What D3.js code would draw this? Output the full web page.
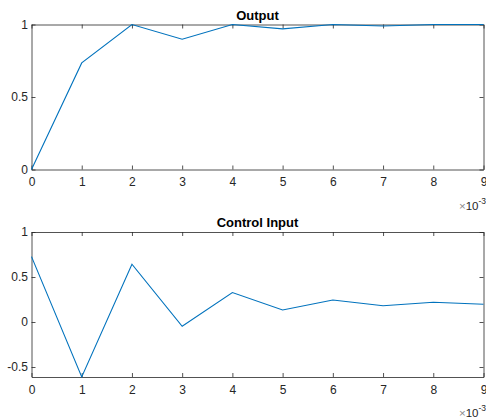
<!DOCTYPE html>
<html>
<head>
<meta charset="utf-8">
<script src="https://cdn.jsdelivr.net/npm/d3@7"></script>
<style>
	body { margin: 0; background: #fff; }
	svg { display: block; font-family: "Liberation Sans", Arial, sans-serif; }
	.tick text { fill: #262626; font-size: 12px; }
	.title { font-weight: bold; font-size: 13px; fill: #000; }
</style>
</head>
<body>
<svg width="486" height="419"></svg>
<script>
// time steps (x 10^-3)
const steps = [0, 1, 2, 3, 4, 5, 6, 7, 8, 9]
const outputValues = [0, 0.735, 1.0, 0.898, 1.0, 0.97, 1.0, 0.99, 1.0, 1.0]
const controlValues = [0.726, -0.61, 0.642, -0.048, 0.327, 0.133, 0.244, 0.181, 0.219, 0.197]

const outputTicks = [0, 0.5, 1]
const controlTicks = [-0.5, 0, 0.5, 1]

const svg = d3.select("svg")
const axisColor = "#262626"

const x = d3.scaleLinear()
	.domain([0, 9])
	.range([31.5, 483.5])

function drawPanel(top, bottom, domain, ticks, values, title) {
	const y = d3.scaleLinear().domain(domain).range([bottom, top])
	const g = svg.append("g")

	// bottom and left axes, ticks pointing inward
	g.append("g")
		.attr("transform", "translate(0," + bottom + ")")
		.call(d3.axisBottom(x).tickValues(steps).tickFormat(d3.format("d")).tickSizeInner(-4).tickSizeOuter(0).tickPadding(8))
	g.append("g")
		.attr("transform", "translate(" + x.range()[0] + ",0)")
		.call(d3.axisLeft(y).tickValues(ticks).tickFormat(d => d).tickSizeInner(-4).tickSizeOuter(0).tickPadding(3.5))

	// top and right (box on)
	g.append("g")
		.attr("transform", "translate(0," + top + ")")
		.call(d3.axisTop(x).tickValues(steps).tickFormat("").tickSizeInner(-4).tickSizeOuter(0))
	g.append("g")
		.attr("transform", "translate(" + x.range()[1] + ",0)")
		.call(d3.axisRight(y).tickValues(ticks).tickFormat("").tickSizeInner(-4).tickSizeOuter(0))

	g.selectAll(".domain, .tick line").attr("stroke", axisColor).attr("stroke-width", 0.8)
	g.selectAll(".tick text").attr("font-family", null).attr("font-size", null)

	// the line
	g.append("path")
		.datum(values)
		.attr("fill", "none")
		.attr("stroke", "#0072BD")
		.attr("stroke-width", 1.1)
		.attr("d", d3.line().x((d, i) => x(steps[i])).y(d => y(d)))

	g.append("text")
		.attr("class", "title")
		.attr("x", (x.range()[0] + x.range()[1]) / 2)
		.attr("y", top - 5)
		.attr("text-anchor", "middle")
		.text(title)

	// exponent label
	const ex = g.append("text")
		.attr("x", 486)
		.attr("y", bottom + 40)
		.attr("text-anchor", "end")
		.attr("fill", axisColor)
		.attr("font-size", 11.5)
	ex.append("tspan").attr("fill", "#8a8a8a").text("\u00d7")
	ex.append("tspan").text("10")
	ex.append("tspan").attr("dy", -6).attr("font-size", 8.5).text("-3")
}

drawPanel(24.5, 169.5, [0, 1], outputTicks, outputValues, "Output")
drawPanel(232, 377, [-0.611, 1], controlTicks, controlValues, "Control Input")
</script>
</body>
</html>
